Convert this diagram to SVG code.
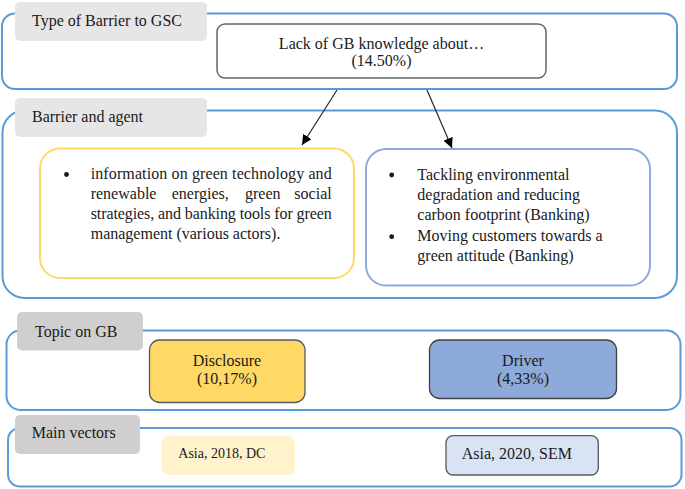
<svg xmlns="http://www.w3.org/2000/svg" width="685" height="489" viewBox="0 0 685 489" font-family="'Liberation Serif', 'Times New Roman', serif" font-size="16">
<defs>
<style>
text{fill:#1a1a1a}
.frame{fill:#fff;stroke:#5b9bd5;stroke-width:2}
.tab1{fill:#e7e6e6}
.tab2{fill:#d0cece}
.c{text-anchor:middle}
.conn{stroke:#262626;stroke-width:1.2;fill:none;marker-end:url(#ah)}
</style>
<marker id="ah" viewBox="0 0 10 10" refX="10" refY="5" markerWidth="10" markerHeight="10" markerUnits="userSpaceOnUse" orient="auto">
<path d="M0,0 L10,5 L0,10 z" fill="#000"/>
</marker>
</defs>
<rect width="685" height="489" fill="#fff"/>

<g id="section-type">
<rect class="frame" x="2" y="13.5" width="675" height="75.5" rx="13"/>
<rect class="tab1" x="15" y="2" width="192" height="39" rx="5"/>
<text x="32" y="26" font-family="Liberation Serif, serif">Type of Barrier to GSC</text>
</g>
<g id="node-lack" font-family="Liberation Serif, serif">
<rect x="217" y="24" width="329" height="54" rx="8" fill="#fff" stroke="#666" stroke-width="1.5"/>
<text class="c" x="381.5" y="49">Lack of GB knowledge about…</text>
<text class="c" x="381.5" y="66">(14.50%)</text>
</g>

<g id="section-agent" font-family="Liberation Serif, serif">
<rect class="frame" x="2.5" y="110.5" width="674.5" height="187.5" rx="22"/>
<rect class="tab1" x="15" y="98" width="192" height="39" rx="5"/>
<text x="32" y="122">Barrier and agent</text>
</g>
<g id="node-info" font-family="Liberation Serif, serif">
<rect x="40" y="148.5" width="314" height="129.5" rx="20" fill="#fff" stroke="#ffd966" stroke-width="2"/>
<circle cx="66.5" cy="174.5" r="2.4" fill="#1a1a1a"/>
<text x="90.7" y="179" textLength="241" lengthAdjust="spacing">information on green technology and</text>
<text x="90.7" y="199">renewable</text>
<text x="171.7" y="199">energies,</text>
<text x="245" y="199">green</text>
<text x="331.7" y="199" text-anchor="end">social</text>
<text x="90.7" y="219" textLength="241" lengthAdjust="spacing">strategies, and banking tools for green</text>
<text x="90.7" y="239">management (various actors).</text>
</g>
<g id="node-tackling" font-family="Liberation Serif, serif">
<rect x="366" y="149" width="284" height="136.5" rx="20" fill="#fff" stroke="#8eaadb" stroke-width="2"/>
<circle cx="391.7" cy="175" r="2.4" fill="#1a1a1a"/>
<text x="417.3" y="180">Tackling environmental</text>
<text x="417.3" y="200">degradation and reducing</text>
<text x="417.3" y="220">carbon footprint (Banking)</text>
<circle cx="391.7" cy="236.7" r="2.4" fill="#1a1a1a"/>
<text x="417.3" y="241">Moving customers towards a</text>
<text x="417.3" y="261">green attitude (Banking)</text>
</g>

<g id="connectors">
<line class="conn" x1="337" y1="90" x2="302" y2="145"/>
<line class="conn" x1="427" y1="90" x2="452" y2="148"/>
</g>

<g id="section-topic" font-family="Liberation Serif, serif">
<rect class="frame" x="6.5" y="330.5" width="674" height="79.5" rx="14"/>
<rect class="tab2" x="17" y="312" width="126" height="38.5" rx="5"/>
<text x="35" y="337">Topic on GB</text>
</g>
<g id="node-disclosure" font-family="Liberation Serif, serif">
<rect x="149.5" y="340" width="155.5" height="62.5" rx="10" fill="#ffd966" stroke="#595959" stroke-width="1.3"/>
<text class="c" x="227" y="366">Disclosure</text>
<text class="c" x="227" y="384">(10,17%)</text>
</g>
<g id="node-driver" font-family="Liberation Serif, serif">
<rect x="429.5" y="340" width="187" height="58.5" rx="10" fill="#8eaadb" stroke="#404040" stroke-width="1.3"/>
<text class="c" x="523" y="366">Driver</text>
<text class="c" x="523" y="384">(4,33%)</text>
</g>

<g id="section-vectors" font-family="Liberation Serif, serif">
<rect class="frame" x="8" y="428" width="673.5" height="58.5" rx="12"/>
<rect class="tab2" x="15" y="415" width="125" height="39" rx="5"/>
<text x="31.7" y="438">Main vectors</text>
</g>
<g id="node-asia2018" font-family="Liberation Serif, serif">
<rect x="161.7" y="435.7" width="133.3" height="39.3" rx="7" fill="#fff2cc"/>
<text x="178.3" y="458.3" font-size="14">Asia, 2018, DC</text>
</g>
<g id="node-asia2020" font-family="Liberation Serif, serif">
<rect x="446" y="435.7" width="152.3" height="39.3" rx="7" fill="#dae3f3" stroke="#595959" stroke-width="1.3"/>
<text x="461.7" y="459">Asia, 2020, SEM</text>
</g>
</svg>
